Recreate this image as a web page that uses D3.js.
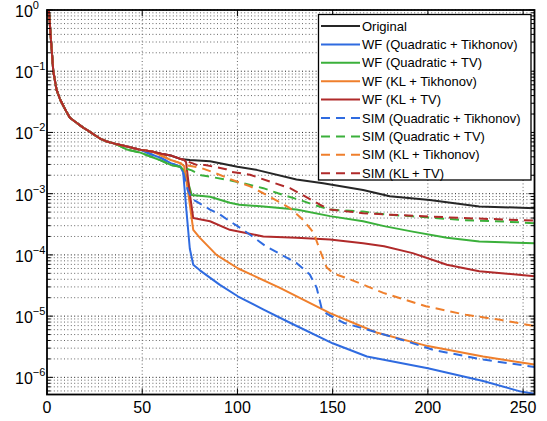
<!DOCTYPE html>
<html>
<head>
<meta charset="utf-8">
<script src="https://cdn.jsdelivr.net/npm/d3@7"></script>
<style>
body { margin: 0; background: #fff; }
svg { font-family: "Liberation Sans", Arial, sans-serif; }
</style>
</head>
<body>
<svg id="chart" width="547" height="421"></svg>
<script>
// shared start of every run (iteration, error)
let common = [[1, 1], [2, 0.35], [3.3, 0.1], [5, 0.05], [7, 0.0339], [10, 0.0224], [12, 0.0174],
    [15, 0.0148], [19, 0.012], [22, 0.0105], [25, 0.0091], [28, 0.0079], [31, 0.0072], [36, 0.0065],
    [42, 0.0059], [49, 0.0052], [55, 0.0049], [60, 0.0045], [65, 0.0042], [70, 0.0037]];

let original = [[75, 0.00355], [85.6, 0.00339], [100, 0.00275], [110, 0.00245], [131, 0.0017],
    [145, 0.00148], [166, 0.00115], [180, 0.00091], [201, 0.00079], [227, 0.00062], [256, 0.00058]];

let wfQuadTik = [[55, 0.00437], [60, 0.0038], [65, 0.00316], [70, 0.00275], [71.5, 0.00224],
    [73, 0.00063], [75, 0.000126], [76.8, 6.9e-5], [80.3, 5.6e-5], [90.8, 3.24e-5], [100.4, 2.09e-5],
    [113.5, 1.29e-5], [127.6, 7.8e-6], [150, 3.6e-6], [168, 2.19e-6], [200, 1.41e-6], [229, 8.7e-7],
    [248.4, 5.9e-7], [256, 5.4e-7]];

let wfQuadTV = [[42, 0.00525], [49, 0.00468], [55, 0.00398], [60, 0.00347], [65, 0.00295],
    [70, 0.00275], [72, 0.0024], [73.5, 0.00178], [76, 0.00095], [85.6, 0.00089], [96, 0.00071],
    [101, 0.00066], [113.6, 0.00062], [131, 0.00055], [148.6, 0.00043], [166, 0.000355],
    [177, 0.000295], [192, 0.00024], [210, 0.00019], [227, 0.000166], [256, 0.000155]];

let wfKLTik = [[60, 0.00417], [65, 0.00355], [70, 0.00316], [72, 0.00282], [74, 0.00112],
    [76.8, 0.000257], [80.3, 0.00019], [89, 1e-4], [100.4, 6.0e-5], [122.3, 2.9e-5], [148.6, 1.12e-5],
    [173, 5.4e-6], [200, 3.24e-6], [229, 2.19e-6], [256, 1.62e-6]];

let wfKLTV = [[72, 0.00355], [73, 0.0033], [75, 0.001], [76.8, 0.0004], [85.6, 0.000355],
    [96, 0.000257], [113.6, 0.0002], [131, 0.00019], [148.6, 0.000178], [166, 0.000155],
    [177, 0.000138], [192, 0.000107], [210, 6.9e-5], [227, 5.4e-5], [256, 4.5e-5]];

let simQuadTik = [[74, 0.00112], [76, 0.00083], [78.6, 0.00074], [85.6, 0.00055], [90.8, 0.000457],
    [96, 0.000355], [103, 0.000257], [115, 0.000138], [131, 7.4e-5], [138, 4.8e-5], [141.6, 2.9e-5],
    [144.2, 1.35e-5], [146.8, 1.1e-5], [155.6, 7.8e-6], [185.4, 4.2e-6], [203, 2.8e-6],
    [229, 1.95e-6], [256, 1.48e-6]];

let simQuadTV = [[72, 0.00263], [76, 0.0024], [81, 0.002], [96, 0.00166], [103, 0.00148],
    [113.6, 0.00123], [124, 0.00095], [132.8, 0.00079], [140, 0.00066], [148.6, 0.00055],
    [166, 0.00051], [178, 0.000457], [192, 0.000427], [218.6, 0.00037], [236, 0.000355], [256, 0.00033]];

let simKLTik = [[72, 0.00295], [81, 0.00263], [88, 0.00219], [96, 0.00174], [106.6, 0.00132],
    [117, 0.00089], [127.6, 0.00058], [134.6, 0.00037], [140, 0.00023], [143.3, 0.00012],
    [146.8, 6.3e-5], [150.3, 5e-5], [159, 4e-5], [176.6, 2.4e-5], [199, 1.45e-5], [220, 1.05e-5],
    [238, 8.7e-6], [256, 6.9e-6]];

let simKLTV = [[78.6, 0.00295], [83, 0.00295], [94, 0.00251], [96, 0.00229], [106.6, 0.00204],
    [117, 0.00158], [127.6, 0.00123], [136, 0.00089], [143.3, 0.00066], [148.6, 0.00055],
    [166, 0.00048], [178, 0.000457], [192, 0.000437], [218.6, 0.0004], [250, 0.00037], [256, 0.000363]];

let names = ['Original', 'WF (Quadratic + Tikhonov)', 'WF (Quadratic + TV)', 'WF (KL + Tikhonov)',
    'WF (KL + TV)', 'SIM (Quadratic + Tikhonov)', 'SIM (Quadratic + TV)', 'SIM (KL + Tikhonov)',
    'SIM (KL + TV)'];
let xTicks = [0, 50, 100, 150, 200, 250];
let yExps = [0, -1, -2, -3, -4, -5, -6];

// points of a run before x = cut
function upTo(arr, cut) { return arr.filter(d => d[0] < cut); }

let wfQT = upTo(common, 55).concat(wfQuadTik);
let wfQV = upTo(common, 42).concat(wfQuadTV);
let wfKT = upTo(common, 60).concat(wfKLTik);
let wfKV = common.concat(wfKLTV);

let series = [
    common.concat(original),
    wfQT,
    wfQV,
    wfKT,
    wfKV,
    upTo(wfQT, 72).concat(simQuadTik),
    upTo(wfQV, 72).concat(simQuadTV),
    upTo(wfKT, 72).concat(simKLTik),
    upTo(wfKV, 73).concat(simKLTV)
];

let colors = ['#262626', '#2f6be0', '#3bb03b', '#ef7f2c', '#b02a2a', '#2f6be0', '#3bb03b', '#ef7f2c', '#b02a2a'];
let dashed = [false, false, false, false, false, true, true, true, true];

let svg = d3.select('#chart');
let pL = 47, pR = 534.5, pT = 10, pB = 394.5;

let x = d3.scaleLinear().domain([0, 256]).range([pL, pR]);
let y = d3.scaleLog().domain([Math.pow(10, -6.28), 1]).range([pB, pT]);

function isDecade(v) { return Math.abs(Math.log10(v) - Math.round(Math.log10(v))) < 1e-6; }

// grid lines (dotted, matlab style)
let grid = svg.append('g');
let minor = y.ticks().filter(v => v >= y.domain()[0] && v <= 1);
grid.selectAll('.hgrid')
    .data(minor)
    .join('line')
    .attr('x1', pL).attr('x2', pR)
    .attr('y1', d => y(d)).attr('y2', d => y(d))
    .attr('stroke', d => isDecade(d) ? '#222' : '#666')
    .attr('stroke-width', 1)
    .attr('stroke-dasharray', '1,2.4');
grid.selectAll('.vgrid')
    .data(xTicks.slice(1))
    .join('line')
    .attr('x1', d => x(d)).attr('x2', d => x(d))
    .attr('y1', pT).attr('y2', pB)
    .attr('stroke', '#666')
    .attr('stroke-width', 1)
    .attr('stroke-dasharray', '1,2.4');

// curves
let line = d3.line().x(d => x(d[0])).y(d => y(d[1]));
svg.append('g').selectAll('path')
    .data(series)
    .join('path')
    .attr('d', line)
    .attr('fill', 'none')
    .attr('stroke', (d, i) => colors[i])
    .attr('stroke-width', 2)
    .attr('stroke-linejoin', 'round')
    .attr('stroke-dasharray', (d, i) => dashed[i] ? '9,6' : null);

// axes box and inward ticks
let ax = svg.append('g').attr('stroke', '#000');
minor.forEach(function(v) {
    let len = isDecade(v) ? 6 : 3.5;
    ax.append('line').attr('x1', pL).attr('x2', pL + len).attr('y1', y(v)).attr('y2', y(v));
    ax.append('line').attr('x1', pR).attr('x2', pR - len).attr('y1', y(v)).attr('y2', y(v));
});
xTicks.forEach(function(t) {
    ax.append('line').attr('x1', x(t)).attr('x2', x(t)).attr('y1', pB).attr('y2', pB - 6);
    ax.append('line').attr('x1', x(t)).attr('x2', x(t)).attr('y1', pT).attr('y2', pT + 6);
});
svg.append('rect')
    .attr('x', pL).attr('y', pT)
    .attr('width', pR - pL).attr('height', pB - pT)
    .attr('fill', 'none').attr('stroke', '#000').attr('stroke-width', 1.8);

// tick labels
svg.append('g').selectAll('text')
    .data(xTicks)
    .join('text')
    .attr('x', d => x(d))
    .attr('y', 413)
    .attr('text-anchor', 'middle')
    .attr('font-size', 16)
    .text(d => d);

let ylab = svg.append('g').selectAll('text')
    .data(yExps)
    .join('text')
    .attr('x', 15)
    .attr('y', d => y(Math.pow(10, d)) + 7)
    .attr('font-size', 16);
ylab.append('tspan').text('10');
ylab.append('tspan')
    .attr('font-size', 11)
    .attr('dy', -8)
    .text(d => d === 0 ? '0' : '\u2212' + (-d));

// legend
let lg = svg.append('g');
lg.append('rect')
    .attr('x', 318.5).attr('y', 14.5)
    .attr('width', 212.5).attr('height', 165.5)
    .attr('fill', '#fff').attr('stroke', '#000').attr('stroke-width', 1.3);
names.forEach(function(n, i) {
    let cy = 26 + i * 18.4;
    lg.append('line')
        .attr('x1', 321).attr('x2', 360)
        .attr('y1', cy).attr('y2', cy)
        .attr('stroke', colors[i]).attr('stroke-width', 2)
        .attr('stroke-dasharray', dashed[i] ? '9,6' : null);
    lg.append('text')
        .attr('x', 362).attr('y', cy + 4.5)
        .attr('font-size', 13)
        .text(n);
});
</script>
</body>
</html>
